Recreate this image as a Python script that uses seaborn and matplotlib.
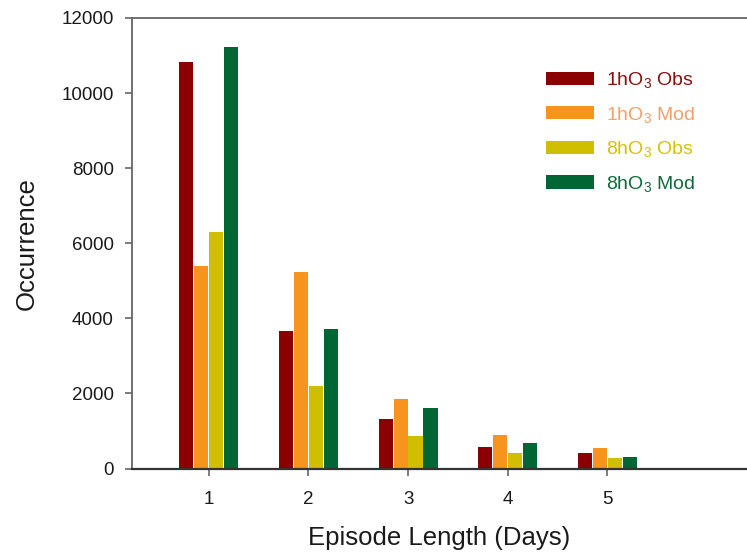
import matplotlib
matplotlib.use("Agg")
import matplotlib.pyplot as plt
import seaborn as sns
import pandas as pd

# ---- data ----
episode_lengths = ["1", "2", "3", "4", "5"]
series_names = [r"1hO$_\mathregular{3}$ Obs", r"1hO$_\mathregular{3}$ Mod",
                r"8hO$_\mathregular{3}$ Obs", r"8hO$_\mathregular{3}$ Mod"]
obs_1h = [10830, 3660, 1310, 560, 400]
mod_1h = [5390, 5230, 1840, 880, 535]
obs_8h = [6300, 2190, 855, 410, 270]
mod_8h = [11230, 3710, 1600, 670, 295]

bar_colors = ["#8B0000", "#F7941E", "#D0BE00", "#006633"]
text_colors = ["#8B0E0E", "#F5A068", "#D4C300", "#0E6B3A"]

rows = []
for name, vals in zip(series_names, [obs_1h, mod_1h, obs_8h, mod_8h]):
    for cat, v in zip(episode_lengths, vals):
        rows.append({"Episode Length (Days)": cat, "Occurrence": v, "Series": name})
df = pd.DataFrame(rows)

sns.set_style("white")
plt.rcParams["font.family"] = ["Liberation Sans", "DejaVu Sans"]
plt.rcParams["mathtext.fontset"] = "custom"
plt.rcParams["mathtext.rm"] = "Liberation Sans"
plt.rcParams["mathtext.it"] = "Liberation Sans:italic"

fig = plt.figure(figsize=(7.47, 5.56), dpi=100)
W, H = 747, 556
left, right, top, bottom = 131.7, 747, 18, 468.5
ax = fig.add_axes([left / W, 1 - bottom / H, (right - left) / W, (bottom - top) / H])

sns.barplot(data=df, x="Episode Length (Days)", y="Occurrence", hue="Series",
            palette=bar_colors, saturation=1, width=0.6, gap=0.06, linewidth=0,
            order=episode_lengths, hue_order=series_names, ax=ax, legend=True)

ax.set_xlim(-0.772, 5.40)
ax.set_ylim(0, 12000)
ax.set_yticks([0, 2000, 4000, 6000, 8000, 10000, 12000])

ax.spines["right"].set_visible(False)
ax.spines["left"].set_color("#666666")
ax.spines["top"].set_color("#666666")
ax.spines["left"].set_linewidth(1.3)
ax.spines["top"].set_linewidth(1.3)
ax.spines["bottom"].set_color("#333333")
ax.spines["bottom"].set_linewidth(1.6)

ax.tick_params(axis="both", which="major", direction="out", length=5, width=1.2,
               color="#666666", labelsize=13.5, labelcolor="#1a1a1a")
ax.tick_params(axis="y", pad=8, left=True)
ax.tick_params(axis="x", pad=11, bottom=True)

ax.set_xlabel("Episode Length (Days)", fontsize=18.5, color="#1a1a1a", labelpad=13)
ax.set_ylabel("Occurrence", fontsize=18.5, color="#1a1a1a", labelpad=16)

handles, labels = ax.get_legend_handles_labels()
leg = ax.legend(handles, labels, loc="upper left",
                bbox_to_anchor=((546 - left) / (right - left), 1 - (70 - top) / (bottom - top)),
                frameon=False, fontsize=14, handlelength=2.45, handleheight=0.68,
                handletextpad=0.62, labelspacing=0.75, borderpad=0, borderaxespad=0)
for t, c in zip(leg.get_texts(), text_colors):
    t.set_color(c)

fig.savefig("out.png", dpi=100)
